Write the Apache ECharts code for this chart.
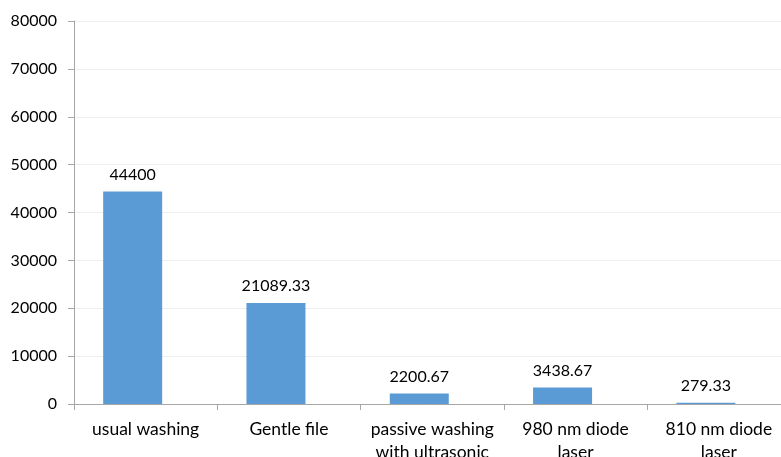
<!DOCTYPE html>
<html><head><meta charset="utf-8">
<script src="https://cdn.jsdelivr.net/npm/echarts@6/dist/echarts.min.js"></script>
<style>html,body{margin:0;padding:0;background:#fff}#c{width:781px;height:457px}</style>
</head><body><div id="c"></div>
<script>
const categories = ['usual washing', 'Gentle file', 'passive washing\nwith ultrasonic', '980 nm diode\nlaser', '810 nm diode\nlaser'];
const values = [44400, 21089.33, 2200.67, 3438.67, 279.33];
const valueLabels = ['44400', '21089.33', '2200.67', '3438.67', '279.33'];
const yTicks = [0, 10000, 20000, 30000, 40000, 50000, 60000, 70000, 80000];

const chart = echarts.init(document.getElementById('c'));
const font = 'Lato, "Open Sans", sans-serif';
chart.setOption({
  animation: false,
  grid: { left: 74, top: 21, bottom: 53, width: 716.5, containLabel: false, outerBoundsMode: 'none' },
  xAxis: {
    type: 'category', data: categories,
    axisLine: { lineStyle: { color: '#a6a6a6', width: 1 } },
    axisTick: { show: true, length: 6, lineStyle: { color: '#a6a6a6' } },
    axisLabel: { color: '#000', fontFamily: font, fontSize: 17.5, margin: 13.5, lineHeight: 23, interval: 0 }
  },
  yAxis: {
    type: 'value', min: yTicks[0], max: yTicks[yTicks.length - 1], interval: yTicks[1] - yTicks[0],
    axisLine: { show: true, lineStyle: { color: '#a6a6a6', width: 1 } },
    axisTick: { show: true, length: 6, lineStyle: { color: '#a6a6a6' } },
    splitLine: { lineStyle: { color: '#efefef' } },
    axisLabel: { color: '#000', fontFamily: font, fontSize: 16, margin: 17, formatter: v => String(v) }
  },
  series: [
    {
      type: 'bar', data: values, barWidth: 59, barGap: '-56%',
      itemStyle: { color: '#5b9bd5' },
      label: { show: true, position: 'top', distance: 9, color: '#000', fontFamily: font, fontSize: 16,
        formatter: p => valueLabels[p.dataIndex] }
    },
    { type: 'bar', data: values.map(() => null), barWidth: 59, silent: true }
  ]
});
</script></body></html>
